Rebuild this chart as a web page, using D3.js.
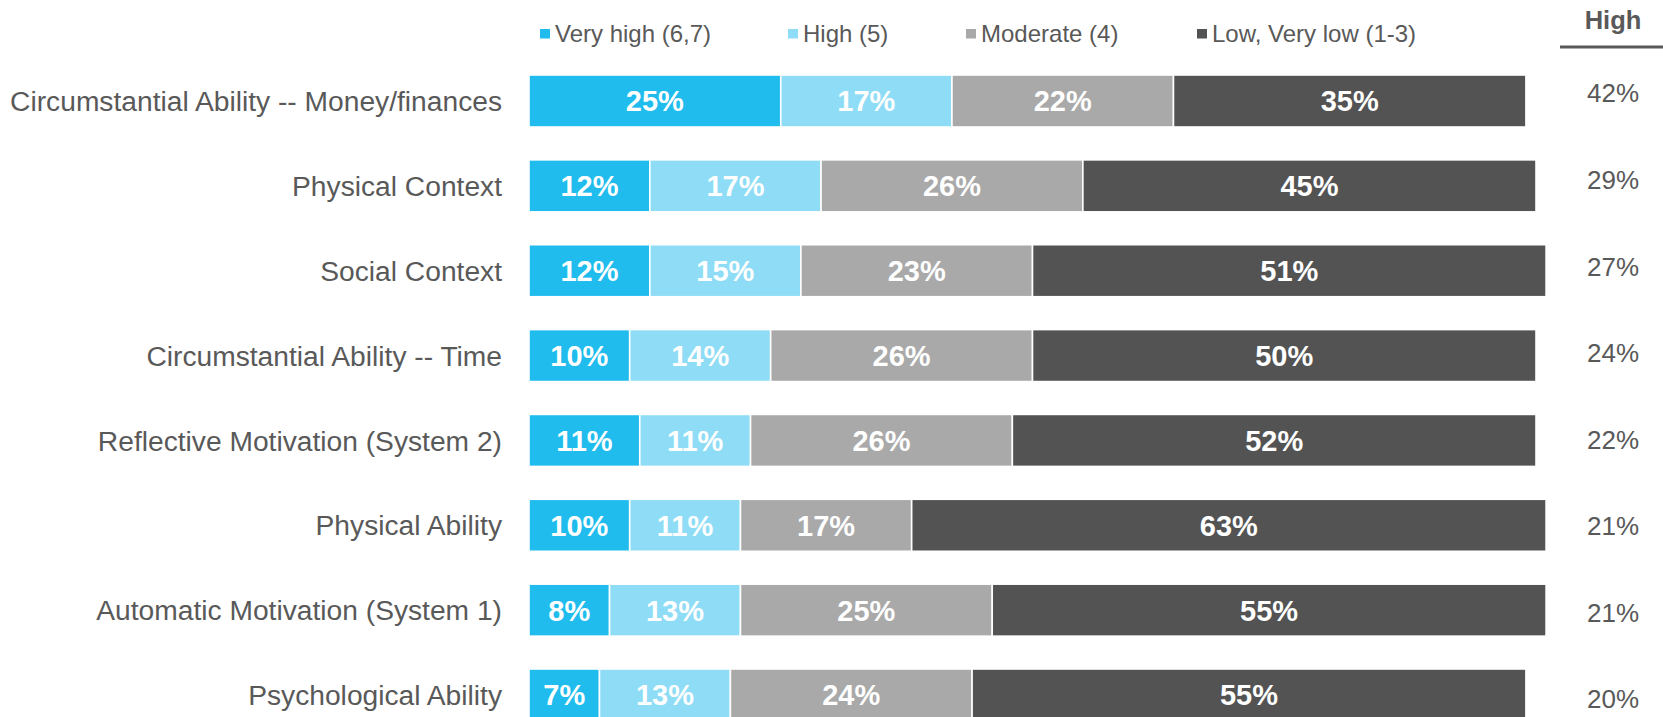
<!DOCTYPE html>
<html>
<head>
<meta charset="utf-8">
<script src="https://cdn.jsdelivr.net/npm/d3@7"></script>
<style>
  html, body { margin: 0; padding: 0; background: #ffffff; }
  svg { display: block; font-family: "Liberation Sans", Arial, sans-serif; }
</style>
</head>
<body>
<svg id="chart" width="1663" height="717"></svg>
<script>
// Categories, top to bottom
const categories = [
  "Circumstantial Ability -- Money/finances",
  "Physical Context",
  "Social Context",
  "Circumstantial Ability -- Time",
  "Reflective Motivation (System 2)",
  "Physical Ability",
  "Automatic Motivation (System 1)",
  "Psychological Ability"
];

// Share of respondents per rating band (%)
const seriesNames = ["Very high (6,7)", "High (5)", "Moderate (4)", "Low, Very low (1-3)"];
const veryHigh = [25, 12, 12, 10, 11, 10, 8, 7];
const high     = [17, 17, 15, 14, 11, 11, 13, 13];
const moderate = [22, 26, 23, 26, 26, 17, 25, 24];
const lowVeryLow = [35, 45, 51, 50, 52, 63, 55, 55];

// Combined "High" column (top two boxes)
const highTotal = [42, 29, 27, 24, 22, 21, 21, 20];
const highHeader = "High";

const seriesColors = ["#1FBCED", "#8EDCF5", "#A9A9A9", "#535353"];
const textGrey = "#595959";

const svg = d3.select("#chart");

const rows = categories.map((c, i) => ({
  category: c,
  values: [veryHigh[i], high[i], moderate[i], lowVeryLow[i]],
  highTotal: highTotal[i]
}));

// Scales
const x = d3.scaleLinear().domain([0, 100]).range([529, 1536]);
const y = d3.scaleBand().domain(categories).range([75, 721]).paddingInner(0.3872).paddingOuter(0);
const yRight = d3.scalePoint().domain(categories).range([93, 699]);

// Stacked segments
const stackData = rows.map(r => {
  const o = { category: r.category };
  seriesNames.forEach((s, k) => { o[s] = r.values[k]; });
  return o;
});
const stacked = d3.stack().keys(seriesNames)(stackData);

const layers = svg.append("g").attr("class", "bars")
  .selectAll("g")
  .data(stacked)
  .join("g")
  .attr("fill", (d, k) => seriesColors[k]);

layers.selectAll("rect")
  .data(d => d)
  .join("rect")
  .attr("x", d => x(d[0]))
  .attr("y", d => y(d.data.category))
  .attr("width", d => x(d[1]) - x(d[0]))
  .attr("height", y.bandwidth())
  .attr("stroke", "#ffffff")
  .attr("stroke-width", 1.6);

// Value labels inside segments
layers.selectAll("text")
  .data(d => d.map(p => ({ p, key: d.key })))
  .join("text")
  .attr("x", d => (x(d.p[0]) + x(d.p[1])) / 2)
  .attr("y", d => y(d.p.data.category) + y.bandwidth() / 2)
  .attr("dy", "0.36em")
  .attr("text-anchor", "middle")
  .attr("fill", "#ffffff")
  .attr("font-weight", "bold")
  .attr("font-size", 29)
  .text(d => d.p.data[d.key] + "%");

// Category labels
svg.append("g").attr("class", "categories")
  .selectAll("text")
  .data(categories)
  .join("text")
  .attr("x", 502)
  .attr("y", d => y(d) + y.bandwidth() / 2)
  .attr("dy", "0.36em")
  .attr("text-anchor", "end")
  .attr("fill", textGrey)
  .attr("font-size", 28.2)
  .text(d => d);

// Right-hand "High" column
const rightX = 1613;
svg.append("text")
  .attr("x", rightX)
  .attr("y", 29)
  .attr("text-anchor", "middle")
  .attr("fill", textGrey)
  .attr("font-weight", "bold")
  .attr("font-size", 25.5)
  .text(highHeader);

svg.append("line")
  .attr("x1", 1560).attr("x2", 1663)
  .attr("y1", 47).attr("y2", 47)
  .attr("stroke", textGrey)
  .attr("stroke-width", 3);

svg.append("g").attr("class", "high-total")
  .selectAll("text")
  .data(rows)
  .join("text")
  .attr("x", rightX)
  .attr("y", d => yRight(d.category))
  .attr("dy", "0.36em")
  .attr("text-anchor", "middle")
  .attr("fill", textGrey)
  .attr("font-size", 26)
  .text(d => d.highTotal + "%");

// Legend
const legendX = [540, 788, 966, 1197];
const legend = svg.append("g").attr("class", "legend")
  .selectAll("g")
  .data(seriesNames)
  .join("g")
  .attr("transform", (d, k) => `translate(${legendX[k]},0)`);

legend.append("rect")
  .attr("x", 0).attr("y", 29)
  .attr("width", 10).attr("height", 9.5)
  .attr("fill", (d, k) => seriesColors[k]);

legend.append("text")
  .attr("x", 15)
  .attr("y", 42)
  .attr("fill", textGrey)
  .attr("font-size", 24)
  .text(d => d);
</script>
</body>
</html>
